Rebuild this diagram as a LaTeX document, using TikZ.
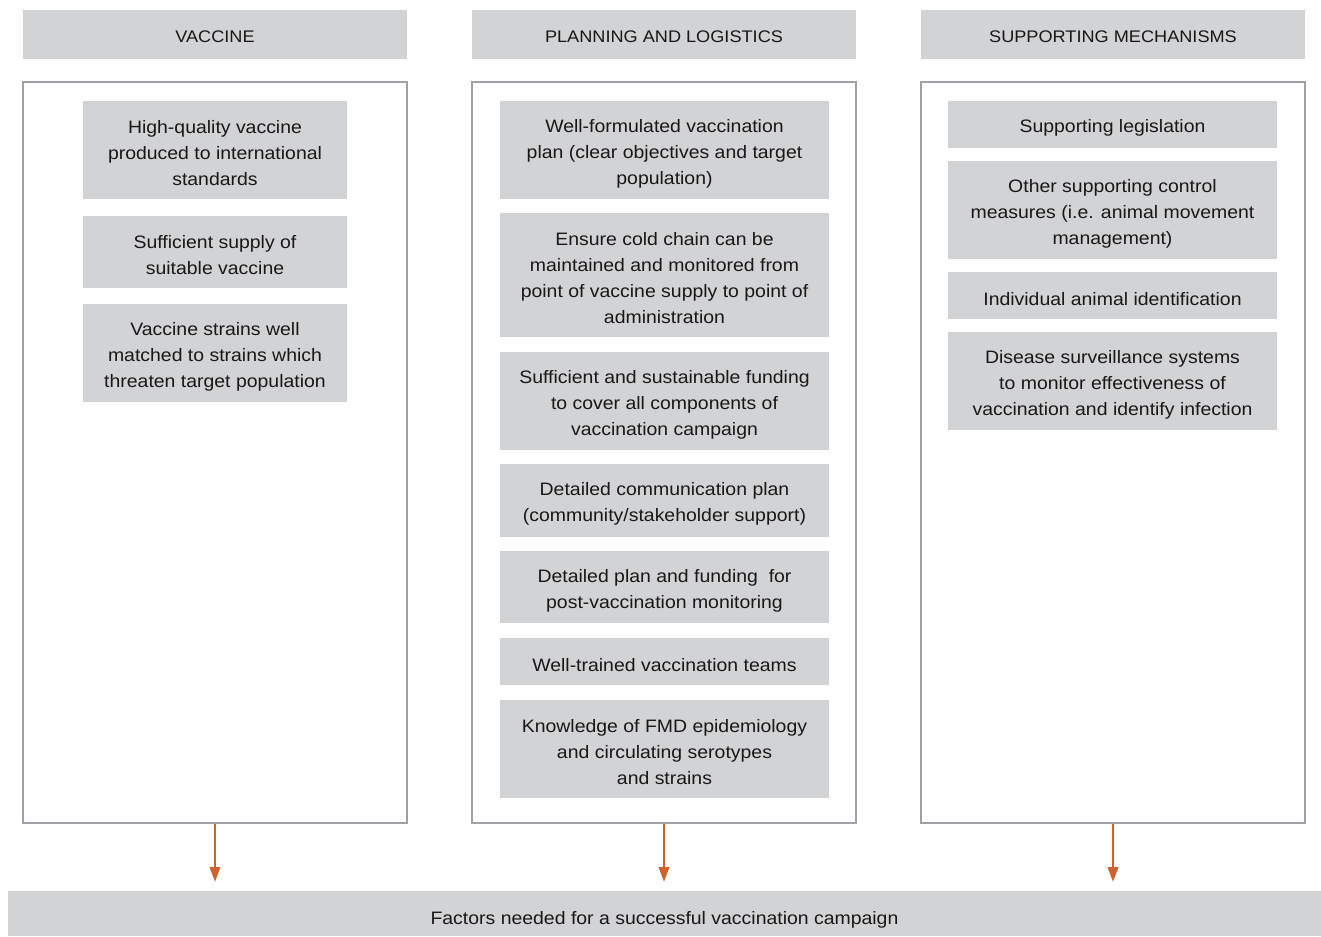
\documentclass[tikz,border=0pt]{standalone}
\usepackage{fontspec}
\setmainfont{Liberation Sans}[FakeStretch=1.08]
\usetikzlibrary{arrows.meta}
\definecolor{boxgray}{HTML}{D1D3D4}
\definecolor{framegray}{HTML}{A0A0A6}
\definecolor{txt}{HTML}{1A1718}
\definecolor{arrorange}{HTML}{D2622B}
\tikzset{
  gbox/.style={fill=boxgray, draw=none, inner sep=0pt},
  btext/.style={inner sep=0pt, align=center, text=txt, yshift=-2.6pt,
    font=\fontsize{13.5}{19.5}\selectfont},
  htext/.style={btext, yshift=1.1pt, font=\fontsize{12.6}{16}\selectfont},
  ftext/.style={btext, yshift=-1.9pt},
  frame/.style={draw=framegray, line width=0.8pt, fill=none, inner sep=0pt},
  arr/.style={draw=arrorange, line width=1.1pt, -{Triangle[length=11pt,width=8pt]}, shorten >=6.75pt},
}
% box from pixel corners: name, box style, x1, y1, x2, y2, text style, text
\newcommand\pxbox[8]{%
  \node[#2, minimum width={(#5-#3)*0.75pt}, minimum height={(#6-#4)*0.75pt}] (#1) at ({(#3+#5)/2},{(#4+#6)/2}) {};%
  \node[#7] (#1-t) at (#1.center) {#8};}
\begin{document}
\begin{tikzpicture}[x=0.75pt,y=-0.75pt]
\useasboundingbox (0,0) rectangle (1321,936);
% headers
\pxbox{h1}{gbox}{23}{10}{407}{59}{htext}{VACCINE}
\pxbox{h2}{gbox}{472}{10}{856}{59}{htext}{PLANNING AND LOGISTICS}
\pxbox{h3}{gbox}{921}{10}{1305}{59}{htext}{SUPPORTING MECHANISMS}
% frames
\node[frame, minimum width=288pt, minimum height=555.75pt] (o1) at (215,452.5) {};
\node[frame, minimum width=288pt, minimum height=555.75pt] (o2) at (664,452.5) {};
\node[frame, minimum width=288pt, minimum height=555.75pt] (o3) at (1113,452.5) {};
% column 1
\pxbox{v1}{gbox}{83}{101}{347}{199}{btext}{High-quality vaccine\\produced to international\\standards}
\pxbox{v2}{gbox}{83}{216}{347}{288}{btext}{Sufficient supply of\\suitable vaccine}
\pxbox{v3}{gbox}{83}{304}{347}{402}{btext}{Vaccine strains well\\matched to strains which\\threaten target population}
% column 2
\pxbox{p1}{gbox}{500}{101}{829}{199}{btext}{Well-formulated vaccination\\plan (clear objectives and target\\population)}
\pxbox{p2}{gbox}{500}{213}{829}{337}{btext}{Ensure cold chain can be\\maintained and monitored from\\point of vaccine supply to point of\\administration}
\pxbox{p3}{gbox}{500}{352}{829}{450}{btext}{Sufficient and sustainable funding\\to cover all components of\\vaccination campaign}
\pxbox{p4}{gbox}{500}{464}{829}{537}{btext}{Detailed communication plan\\(community/stakeholder support)}
\pxbox{p5}{gbox}{500}{551}{829}{623}{btext}{Detailed plan and funding\ \ for\\post-vaccination monitoring}
\pxbox{p6}{gbox}{500}{638}{829}{685}{btext}{Well-trained vaccination teams}
\pxbox{p7}{gbox}{500}{700}{829}{798}{btext}{Knowledge of FMD epidemiology\\and circulating serotypes\\and strains}
% column 3
\pxbox{s1}{gbox}{948}{101}{1277}{148}{btext}{Supporting legislation}
\pxbox{s2}{gbox}{948}{161}{1277}{259}{btext}{Other supporting control\\measures (i.e. animal movement\\management)}
\pxbox{s3}{gbox}{948}{272}{1277}{319}{btext}{Individual animal identification}
\pxbox{s4}{gbox}{948}{332}{1277}{430}{btext}{Disease surveillance systems\\to monitor effectiveness of\\vaccination and identify infection}
% bottom bar
\pxbox{bar}{gbox}{8}{891}{1321}{936}{ftext}{Factors needed for a successful vaccination campaign}
% arrows
\draw[arr] (o1.south) -- (o1.south |- bar.north);
\draw[arr] (o2.south) -- (o2.south |- bar.north);
\draw[arr] (o3.south) -- (o3.south |- bar.north);
\end{tikzpicture}
\end{document}
